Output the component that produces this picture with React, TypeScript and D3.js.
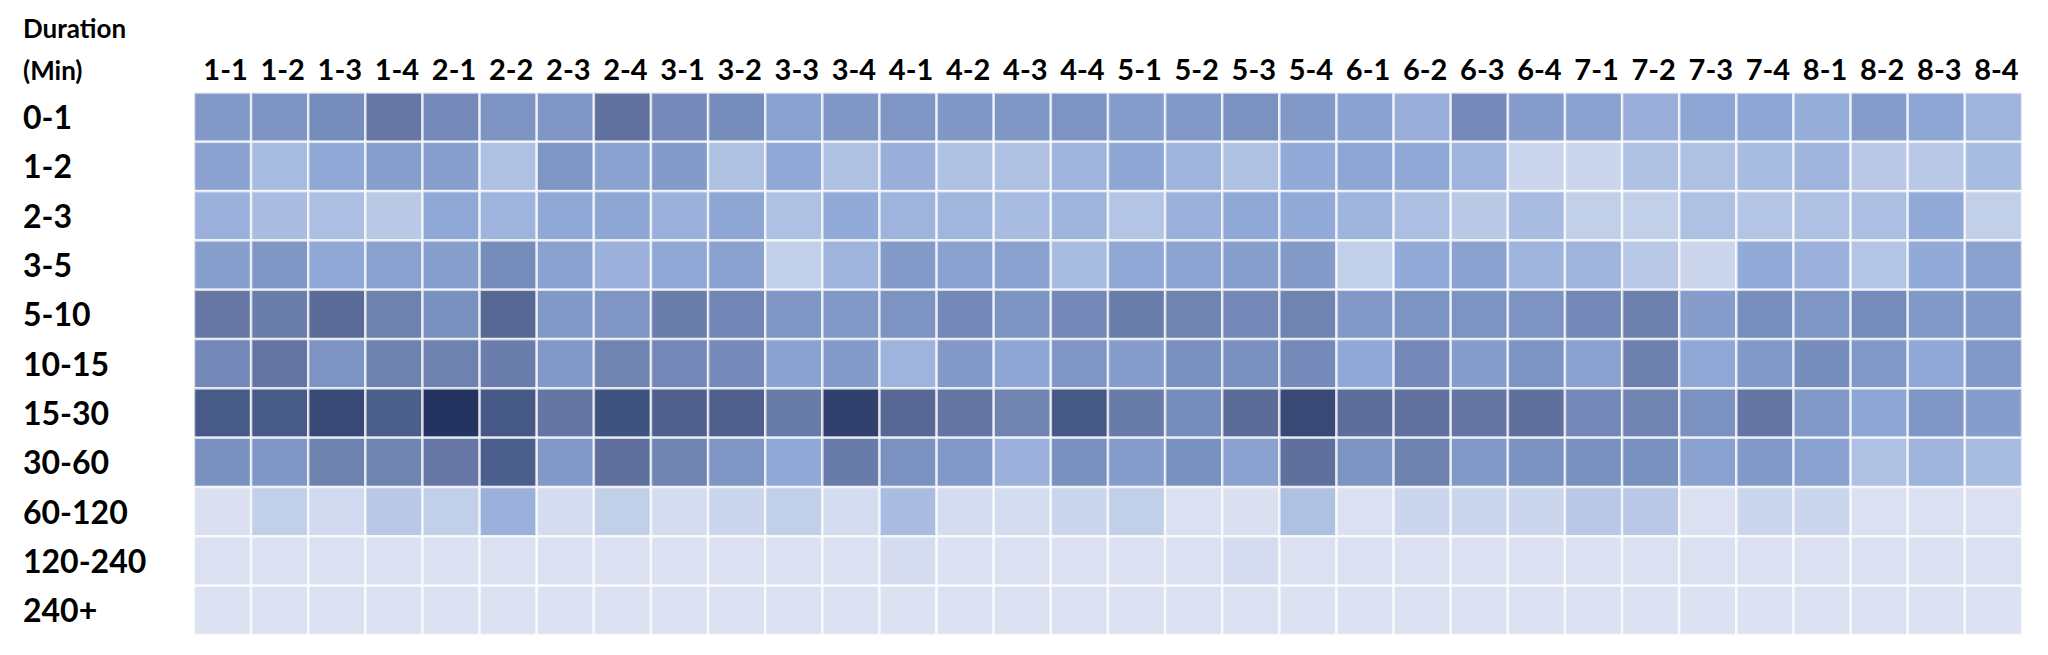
import React from "react";
import * as d3 from "d3";

// Column categories (year-quarter)
const periods = [
  "1-1","1-2","1-3","1-4","2-1","2-2","2-3","2-4",
  "3-1","3-2","3-3","3-4","4-1","4-2","4-3","4-4",
  "5-1","5-2","5-3","5-4","6-1","6-2","6-3","6-4",
  "7-1","7-2","7-3","7-4","8-1","8-2","8-3","8-4",
];

// Row categories (duration buckets, minutes)
const durations = ["0-1","1-2","2-3","3-5","5-10","10-15","15-30","30-60","60-120","120-240","240+"];

// Relative intensity (0-100) per duration bucket, one value per period
const v0_1 =    [55,58,62,72,63,58,57,75,63,62,50,56,57,56,56,58,53,55,59,55,50,43,63,53,50,43,48,48,44,53,48,40];
const v1_2 =    [50,36,47,52,52,32,57,50,54,32,47,32,43,32,32,40,48,40,32,46,48,47,40,14,14,32,32,36,40,27,27,36];
const v2_3 =    [42,35,34,26,47,40,47,48,42,48,32,46,40,39,36,40,30,42,47,46,40,34,26,36,20,20,32,30,32,34,46,20];
const v3_5 =    [52,56,47,50,52,62,50,42,47,50,20,40,54,50,50,36,47,49,52,54,20,46,50,40,40,27,14,46,42,30,46,50];
const v5_10 =   [72,69,78,67,60,80,55,57,69,65,57,55,58,64,58,64,69,66,64,66,55,58,58,58,64,68,53,61,57,62,55,55];
const v10_15 =  [64,73,58,67,67,69,55,66,64,63,50,54,40,55,48,57,53,60,60,63,47,64,53,58,51,68,47,55,62,55,47,55];
const v15_30 =  [87,87,93,85,100,88,73,90,84,84,70,96,80,73,66,88,70,62,78,93,77,75,73,76,64,66,59,73,55,48,57,53];
const v30_60 =  [60,56,67,66,72,85,55,76,66,57,47,70,59,55,42,60,53,60,50,76,58,67,55,59,60,60,50,55,50,32,40,36];
const v60_120 = [2,20,9,27,20,42,7,20,7,14,20,7,35,7,7,14,20,1,2,32,1,14,14,14,27,27,1,14,14,1,1,1];
const v120_240 =[1,1,1,1,1,1,1,1,1,1,1,1,6,1,1,1,1,1,6,1,1,1,1,1,1,1,1,1,1,1,1,1];
const v240p =   [0,0,0,0,0,0,0,0,0,0,0,0,0,0,0,0,0,0,0,0,0,0,0,0,0,0,0,0,0,0,0,0];

const rowsData = [v0_1, v1_2, v2_3, v3_5, v5_10, v10_15, v15_30, v30_60, v60_120, v120_240, v240p];

const W = 2048;
const H = 655;
const gridLeft = 194;
const gridRight = 2022;
const gridTop = 92.5;
const gridBottom = 635;

export default function App() {
  const x = d3.scaleBand<string>().domain(periods).range([gridLeft, gridRight]);
  const y = d3.scaleBand<string>().domain(durations).range([gridTop, gridBottom]);
  const color = d3
    .scaleLinear<string>()
    .domain([0, 14, 27, 36, 47, 55, 64, 72, 80, 88, 100])
    .range([
      "#dce2f1", "#cbd5ec", "#b8c8e6", "#a8bbe0", "#90a8d6", "#8299c8",
      "#7388b6", "#6677a5", "#576894", "#465885", "#243461",
    ])
    .interpolate(d3.interpolateRgb)
    .clamp(true);

  const font = "Lato, 'Open Sans', sans-serif";

  return (
    <svg
      width={W}
      height={H}
      style={{ position: "absolute", left: 0, top: 0, background: "#fff" }}
    >
      <text x={23} y={38} fontFamily={font} fontWeight={700} fontSize={26} fill="#000">
        Duration
      </text>
      <text x={23} y={80} fontFamily={font} fontWeight={700} fontSize={26} fill="#000">
        (Min)
      </text>
      {periods.map((p) => (
        <text
          key={p}
          x={(x(p) as number) + x.bandwidth() / 2 + 3}
          y={80}
          textAnchor="middle"
          fontFamily={font}
          fontWeight={700}
          fontSize={29}
          fill="#000"
        >
          {p}
        </text>
      ))}
      {durations.map((d) => (
        <text
          key={d}
          x={23}
          y={(y(d) as number) + y.bandwidth() / 2 + 12}
          fontFamily={font}
          fontWeight={700}
          fontSize={32}
          fill="#000"
        >
          {d}
        </text>
      ))}
      <g>
        {rowsData.map((row, ri) =>
          row.map((val, ci) => (
            <rect
              key={`${ri}-${ci}`}
              x={x(periods[ci]) as number}
              y={y(durations[ri]) as number}
              width={x.bandwidth()}
              height={y.bandwidth()}
              fill={color(val)}
              stroke="rgba(255,255,255,0.7)"
              strokeWidth={2.5}
            />
          ))
        )}
      </g>
    </svg>
  );
}
